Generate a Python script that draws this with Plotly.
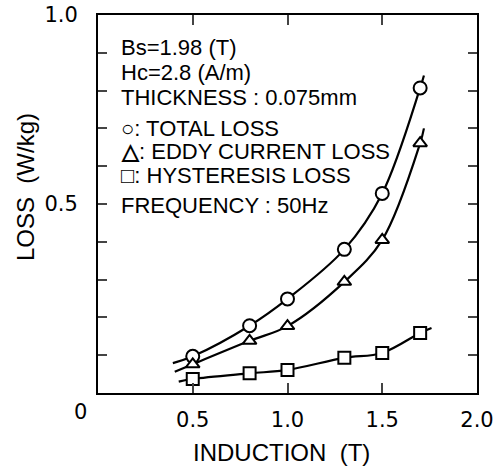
import plotly.graph_objects as go

# measured points
induction = [0.5, 0.8, 1.0, 1.3, 1.5, 1.7]
total_loss = [0.097, 0.178, 0.249, 0.380, 0.528, 0.807]
eddy_loss = [0.076, 0.138, 0.177, 0.294, 0.405, 0.661]
hyst_loss = [0.037, 0.052, 0.061, 0.093, 0.106, 0.159]

# fitted curves
total_curve_x = [0.395, 0.5, 0.8, 1.0, 1.3, 1.5, 1.7, 1.72]
total_curve_y = [0.079, 0.097, 0.178, 0.249, 0.380, 0.528, 0.807, 0.84]
eddy_curve_x = [0.405, 0.5, 0.8, 1.0, 1.3, 1.5, 1.7, 1.72]
eddy_curve_y = [0.056, 0.076, 0.138, 0.177, 0.294, 0.405, 0.661, 0.70]
hyst_curve_x = [0.426, 0.5, 0.8, 1.0, 1.3, 1.5, 1.7, 1.76]
hyst_curve_y = [0.030, 0.037, 0.052, 0.061, 0.093, 0.106, 0.159, 0.172]

x_ticks = [0.5, 1.0, 1.5, 2.0]
x_ticktext = ["0.5", "1.0", "1.5", "2.0"]
y_ticks = [0.1, 0.2, 0.3, 0.4, 0.5, 0.6, 0.7, 0.8, 0.9, 1.0]
y_ticktext = ["", "", "", "", "0.5", "", "", "", "", "1.0"]

FONT = "Liberation Sans"
TICKFONT = dict(family="DejaVu Sans", size=21, color="black")
fig = go.Figure()

for cx, cy in [(total_curve_x, total_curve_y), (eddy_curve_x, eddy_curve_y), (hyst_curve_x, hyst_curve_y)]:
    fig.add_trace(go.Scatter(x=cx, y=cy, mode="lines", line=dict(color="black", width=2.2, shape="spline"),
                             showlegend=False, hoverinfo="skip"))

for ys, sym, sz in [(total_loss, "circle", 13), (eddy_loss, "triangle-up", 12), (hyst_loss, "square", 12)]:
    fig.add_trace(go.Scatter(x=induction, y=ys, mode="markers",
                             marker=dict(symbol=sym, size=sz, color="white", line=dict(width=2, color="black")),
                             showlegend=False))

fig.update_layout(
    width=497, height=468,
    margin=dict(l=98, r=20, t=15, b=75, autoexpand=False),
    paper_bgcolor="white", plot_bgcolor="white",
    font=dict(family=FONT, size=22, color="black"),
    xaxis=dict(range=[0, 2], tickvals=x_ticks, ticktext=x_ticktext, ticks="inside", ticklen=10,
               tickwidth=2, showline=True, linewidth=2, linecolor="black", mirror="allticks",
               showgrid=False, zeroline=False, ticklabelstandoff=7, automargin=False,
               tickfont=TICKFONT),
    yaxis=dict(range=[0, 1], tickvals=y_ticks, ticktext=y_ticktext, ticks="inside", ticklen=9,
               tickwidth=2, showline=True, linewidth=2, linecolor="black", mirror="allticks",
               showgrid=False, zeroline=False, ticklabelstandoff=14, automargin=False,
               tickfont=TICKFONT),
)

ann = [
    ("Bs=1.98 (T)", 47),
    ("Hc=2.8 (A/m)", 72),
    ("THICKNESS : 0.075mm", 97),
    ("<b>○</b>: TOTAL LOSS", 128),
    ("<b>△</b>: EDDY CURRENT LOSS", 151),
    ("<b>□</b>: HYSTERESIS LOSS", 175),
    ("FREQUENCY : 50Hz", 205),
]
for t, py in ann:
    fig.add_annotation(text=t, xref="paper", yref="paper", x=(119 - 98) / 379, y=(393 - py) / 378,
                       xanchor="left", yanchor="middle", showarrow=False, font=dict(size=22))

fig.add_annotation(text="0", xref="paper", yref="paper", x=(80 - 98) / 379, y=(393 - 412) / 378,
                   xanchor="center", yanchor="middle", showarrow=False, font=TICKFONT)
fig.add_annotation(text="INDUCTION  (T)", xref="paper", yref="paper", x=(281 - 98) / 379, y=(393 - 453) / 378,
                   xanchor="center", yanchor="middle", showarrow=False, font=dict(size=24))
fig.add_annotation(text="LOSS  (W/kg)", xref="paper", yref="paper", x=(25 - 98) / 379, y=(393 - 187) / 378,
                   xanchor="center", yanchor="middle", showarrow=False, textangle=-90, font=dict(size=24))

fig.write_html("out.html")
